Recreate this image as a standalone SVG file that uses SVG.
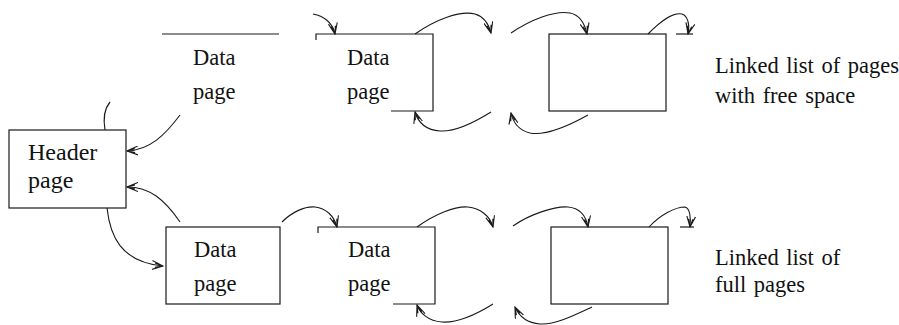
<svg xmlns="http://www.w3.org/2000/svg" width="899" height="325" viewBox="0 0 899 325">
<style>
.ln{fill:none;stroke:#1a1a1a;stroke-width:1.2}
.ar{fill:none;stroke:#1a1a1a;stroke-width:1.1;marker-end:url(#ah)}
text{font-family:"Liberation Serif","Times New Roman","DejaVu Serif",serif;fill:#111}
.t{font-size:22.5px}
.h{font-size:24px}
</style>
<defs>
<marker id="ah" viewBox="0 0 12 10" refX="11" refY="5" markerWidth="12" markerHeight="10" markerUnits="userSpaceOnUse" orient="auto">
<path d="M0,0.5 L11,5 L0,9.5 M3,3 L11,5 L3,7" fill="none" stroke="#1a1a1a" stroke-width="1.1"/>
</marker>
</defs>
<rect width="899" height="325" fill="#fff"/>

<g id="header">
<rect class="ln" x="9" y="130" width="117" height="78"/>
<text class="h" x="28" y="160">Header</text>
<text class="h" x="28" y="188">page</text>
</g>

<g id="free-page1">
<path class="ln" d="M162,34 H279"/>
<text class="t" x="193" y="65">Data</text>
<text class="t" x="193" y="99">page</text>
</g>
<g id="free-page2">
<path class="ln" d="M316,40 V34 H433 V111 H391"/>
<text class="t" x="347" y="65">Data</text>
<text class="t" x="347" y="99">page</text>
</g>
<g id="free-page3">
<rect class="ln" x="549" y="34" width="117" height="77"/>
<path class="ln" d="M676,34 H693"/>
</g>
<g id="free-label">
<text class="t" x="715" y="73" word-spacing="2">Linked list of pages</text>
<text class="t" x="715" y="103" word-spacing="2">with free space</text>
</g>

<g id="full-page1">
<rect class="ln" x="166" y="227" width="114" height="77"/>
<text class="t" x="194" y="257">Data</text>
<text class="t" x="194" y="291">page</text>
</g>
<g id="full-page2">
<path class="ln" d="M318,233 V227 H435 V304 H393"/>
<text class="t" x="348" y="257">Data</text>
<text class="t" x="348" y="291">page</text>
</g>
<g id="full-page3">
<rect class="ln" x="551" y="227" width="117" height="77"/>
<path class="ln" d="M680,227 H694"/>
</g>
<g id="full-label">
<text class="t" x="715" y="265" word-spacing="2">Linked list of</text>
<text class="t" x="715" y="292" word-spacing="2">full pages</text>
</g>

<g id="connectors">
<path class="ln" d="M105,130 C103,118 105,108 110,102"/>
<path class="ar" d="M180,115 C165,135 150,150 127,151"/>
<path class="ar" d="M313,14 C325,16 333,24 335,34"/>
<path class="ar" d="M415,34 C435,20 460,10 475,14 C485,17 489,25 491,33"/>
<path class="ar" d="M511,33 C530,20 555,10 570,13 C580,15 585,25 587,34"/>
<path class="ar" d="M491,112 C475,122 455,132 440,131 C425,130 418,122 415,112"/>
<path class="ar" d="M588,115 C570,125 545,136 530,133 C518,130 513,122 511,113"/>
<path class="ar" d="M648,34 C660,22 672,12 682,14 C688,16 690,25 688,34"/>

<path class="ar" d="M107,208 C110,235 120,262 163,266"/>
<path class="ar" d="M180,222 C165,200 150,187 127,187"/>
<path class="ar" d="M282,222 C292,212 305,206 315,207 C326,208 334,216 337,227"/>
<path class="ar" d="M417,227 C435,214 455,206 468,207 C480,208 490,216 493,227"/>
<path class="ar" d="M513,226 C530,214 555,206 568,207 C580,208 586,216 588,227"/>
<path class="ar" d="M493,304 C477,314 457,323 442,322 C428,321 420,313 417,305"/>
<path class="ar" d="M592,307 C575,315 555,325 540,324 C527,323 519,316 515,307"/>
<path class="ar" d="M649,227 C660,215 675,207 685,207 C690,208 691,218 690,227"/>
</g>
</svg>
